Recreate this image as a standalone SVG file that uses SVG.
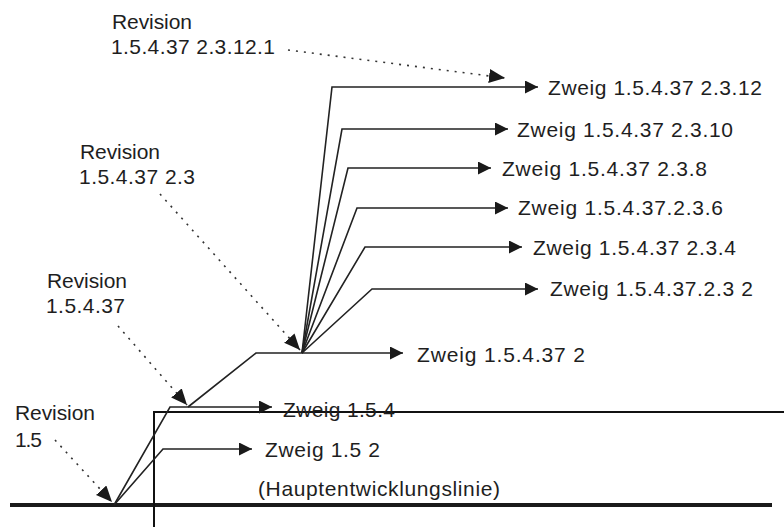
<svg xmlns="http://www.w3.org/2000/svg" width="784" height="527" viewBox="0 0 784 527">
<style>
  text { font-family: "Liberation Sans", Arial, sans-serif; font-size: 21px; fill: #1e1e1e; }
  .br { fill: none; stroke: #222; stroke-width: 1.6; }
  .dot { fill: none; stroke: #333; stroke-width: 1.6; stroke-dasharray: 2 6; }
  .main { fill: none; stroke: #1a1a1a; stroke-width: 4; }
  .box { fill: none; stroke: #111; stroke-width: 2; }
</style>
<defs>
  <marker id="arr" markerUnits="userSpaceOnUse" markerWidth="14" markerHeight="14" refX="13" refY="6.5" orient="auto">
    <path d="M0,0 L13,6.5 L0,13 z" fill="#1a1a1a" stroke="none"/>
  </marker>
  <marker id="darr" markerUnits="userSpaceOnUse" markerWidth="18" markerHeight="18" refX="16" refY="7" orient="auto">
    <path d="M0,0 L16,7 L0,14 z" fill="#1a1a1a" stroke="none"/>
  </marker>
</defs>
<rect width="784" height="527" fill="#fff"/>

<g id="mainline">
  <line class="main" x1="10" y1="505" x2="772" y2="505"/>
  <path class="box" d="M154,527 L154,412 L784,412"/>
</g>

<g id="connectors">
  <!-- from revision 1.5 -->
  <polyline class="br" points="114,505 170,407 272,407" marker-end="url(#arr)"/>
  <polyline class="br" points="114,505 163,449 252,449" marker-end="url(#arr)"/>
  <!-- from revision 1.5.4.37 -->
  <polyline class="br" points="188,407 256,353 403,353" marker-end="url(#arr)"/>
  <!-- fan from revision 1.5.4.37 2.3 -->
  <polyline class="br" points="302,353 332,87 538,87" marker-end="url(#arr)"/>
  <polyline class="br" points="302,353 342,129 508,129" marker-end="url(#arr)"/>
  <polyline class="br" points="302,353 348,168 491,168" marker-end="url(#arr)"/>
  <polyline class="br" points="302,353 357,208 508,208" marker-end="url(#arr)"/>
  <polyline class="br" points="302,353 365,247 522,247" marker-end="url(#arr)"/>
  <polyline class="br" points="302,353 372,289 538,289" marker-end="url(#arr)"/>
  <!-- dotted revision pointers -->
  <line class="dot" x1="288" y1="50" x2="505" y2="78" marker-end="url(#darr)"/>
  <line class="dot" x1="160" y1="194" x2="300" y2="350" marker-end="url(#darr)"/>
  <line class="dot" x1="118" y1="326" x2="187" y2="405" marker-end="url(#darr)"/>
  <line class="dot" x1="55" y1="440" x2="112" y2="502" marker-end="url(#darr)"/>
</g>

<g id="rev-1.5.4.37.2.3.12.1">
  <text x="112" y="29" textLength="80">Revision</text>
  <text x="111" y="54" textLength="164">1.5.4.37 2.3.12.1</text>
</g>
<g id="rev-1.5.4.37.2.3">
  <text x="80" y="159" textLength="80">Revision</text>
  <text x="79" y="184" textLength="116">1.5.4.37 2.3</text>
</g>
<g id="rev-1.5.4.37">
  <text x="47" y="288" textLength="80">Revision</text>
  <text x="46" y="313" textLength="79">1.5.4.37</text>
</g>
<g id="rev-1.5">
  <text x="15" y="420" textLength="80">Revision</text>
  <text x="15" y="447" textLength="27">1.5</text>
</g>

<g id="zweig-2.3.12"><text x="548" y="95" textLength="214">Zweig 1.5.4.37 2.3.12</text></g>
<g id="zweig-2.3.10"><text x="517" y="137" textLength="216">Zweig 1.5.4.37 2.3.10</text></g>
<g id="zweig-2.3.8"><text x="502" y="176" textLength="205">Zweig 1.5.4.37 2.3.8</text></g>
<g id="zweig-2.3.6"><text x="518" y="215" textLength="205">Zweig 1.5.4.37.2.3.6</text></g>
<g id="zweig-2.3.4"><text x="533" y="255" textLength="203">Zweig 1.5.4.37 2.3.4</text></g>
<g id="zweig-2.3.2"><text x="550" y="296" textLength="203">Zweig 1.5.4.37.2.3 2</text></g>
<g id="zweig-1.5.4.37.2"><text x="417" y="362" textLength="168">Zweig 1.5.4.37 2</text></g>
<g id="zweig-1.5.4"><text x="283" y="417" textLength="112">Zweig 1.5.4</text></g>
<g id="zweig-1.5.2"><text x="265" y="457" textLength="115">Zweig 1.5 2</text></g>
<g id="hauptlinie"><text x="258" y="496" textLength="242">(Hauptentwicklungslinie)</text></g>
</svg>
